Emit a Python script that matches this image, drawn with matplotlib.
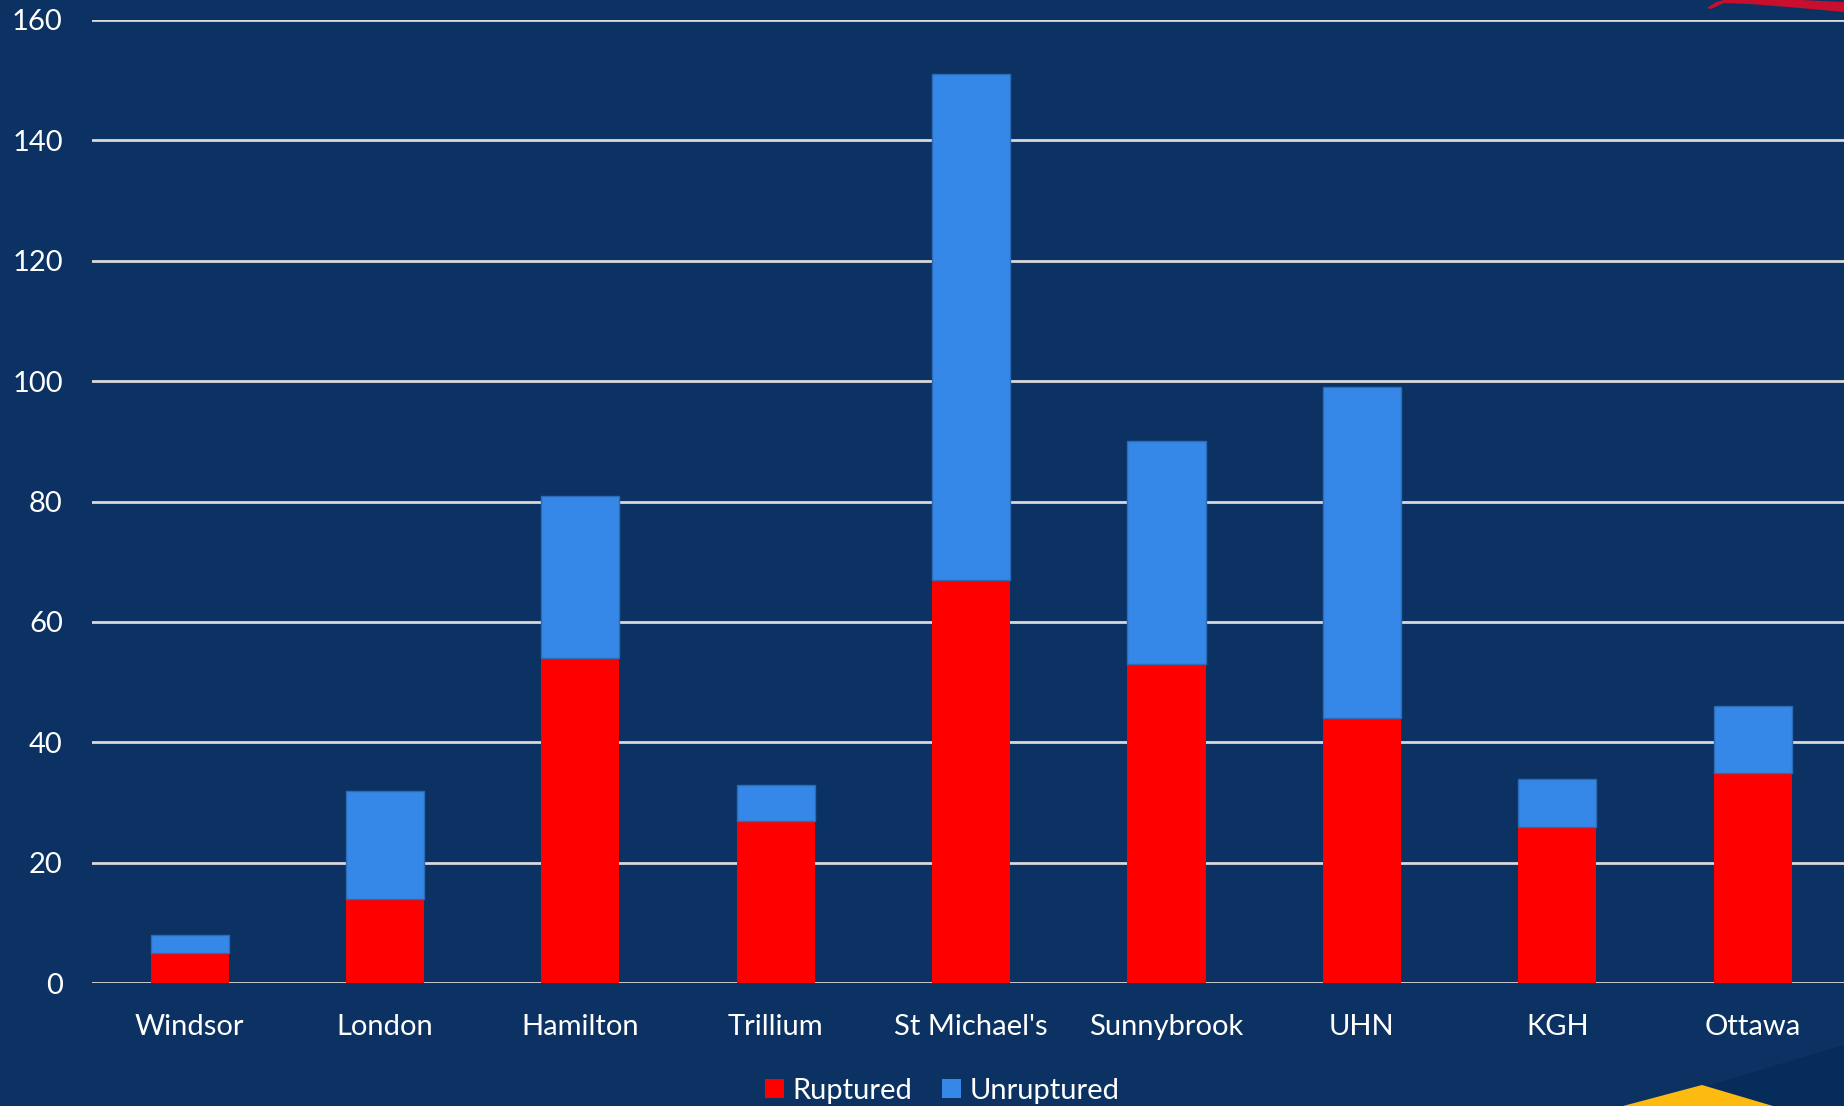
import numpy as np
import matplotlib.pyplot as plt
from matplotlib.patches import Polygon, Patch

plt.rcParams["font.family"] = ["Lato", "DejaVu Sans"]

# data
sites = ["Windsor", "London", "Hamilton", "Trillium", "St Michael's",
         "Sunnybrook", "UHN", "KGH", "Ottawa"]
ruptured = [5, 14, 54, 27, 67, 53, 44, 26, 35]
unruptured = [3, 18, 27, 6, 84, 37, 55, 8, 11]
yticks = [0, 20, 40, 60, 80, 100, 120, 140, 160]

bg = "#0B3262"
red = "#FF0000"
blue = "#3688E8"

W, H = 1844, 1106
fig = plt.figure(figsize=(W / 100, H / 100), dpi=100, facecolor=bg)


def px(pts):
    # pixel coords (top-left origin) -> figure fraction
    return [[a / W, 1 - b / H] for a, b in pts]


# decorative shapes from the slide background
fig.patches.append(Polygon(px([(1690, 1106), (1700, 1088), (1844, 1045), (1844, 1106)]),
                           closed=True, transform=fig.transFigure,
                           facecolor="#062C5B", edgecolor="none", zorder=0))
fig.patches.append(Polygon(px([(1623, 1106), (1702, 1085), (1773, 1106)]),
                           closed=True, transform=fig.transFigure,
                           facecolor="#FDBB12", edgecolor="none", zorder=1))
fig.patches.append(Polygon(px([(1707, 8), (1716, 2), (1728, -1), (1780, -1),
                               (1844, 2), (1844, 12), (1800, 8), (1750, 4),
                               (1724, 3), (1711, 9)]),
                           closed=True, transform=fig.transFigure,
                           facecolor="#C8102E", edgecolor="none", zorder=1))

ax = fig.add_axes([0.0499, 0.111, 0.9535, 0.871])
ax.set_facecolor("none")

x = np.arange(len(sites))
ax.bar(x, ruptured, width=0.40, color=red, edgecolor="none", zorder=3)
ax.bar(x, unruptured, width=0.40, bottom=ruptured, color=blue,
       edgecolor="#2B6BB8", linewidth=1.0, zorder=3)

ax.set_xlim(-0.5, len(sites) - 0.5)
ax.set_ylim(0, 160)
ax.set_yticks(yticks)
ax.set_xticks(x)
ax.set_xticklabels(sites)
ax.grid(axis="y", color="#D9D9D9", lw=2, zorder=1)
ax.tick_params(axis="both", length=0, colors="white", labelsize=21)
ax.tick_params(axis="x", pad=22)
ax.tick_params(axis="y", pad=21)
for s in ax.spines.values():
    s.set_visible(False)

handles = [Patch(facecolor=red, label="Ruptured"),
           Patch(facecolor=blue, label="Unruptured")]
fig.legend(handles=handles, loc="center", bbox_to_anchor=(0.511, 0.014),
           ncol=2, frameon=False, fontsize=21, labelcolor="white",
           handlelength=0.65, handleheight=0.65, handletextpad=0.3,
           columnspacing=1.0)

fig.savefig("out.png", dpi=100, facecolor=bg)
